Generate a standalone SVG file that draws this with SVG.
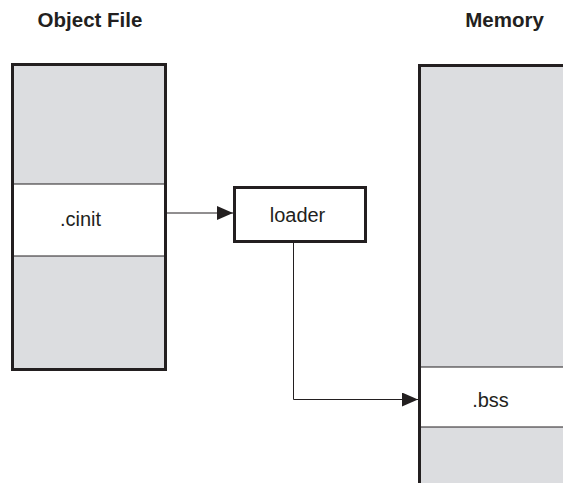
<svg xmlns="http://www.w3.org/2000/svg" width="563" height="483" viewBox="0 0 563 483">
<style>
.title{font-family:"Liberation Sans",Arial,sans-serif;font-weight:bold;font-size:20.5px;fill:#231f20}
.lbl{font-family:"Liberation Sans",Arial,sans-serif;font-size:20px;fill:#231f20}
.gray{fill:#dcdde0}
.div{stroke:#231f20;stroke-width:1;fill:none}
.thick{stroke:#231f20;stroke-width:3;fill:none}
.conn{stroke:#231f20;stroke-width:1;fill:none}
</style>
<defs>
<marker id="arr" markerWidth="16" markerHeight="14" refX="16" refY="7" orient="auto" markerUnits="userSpaceOnUse">
<path d="M0,0 L16,7 L0,14 Z" fill="#231f20"/>
</marker>
</defs>
<rect width="563" height="483" fill="#fff"/>
<text class="title" x="90" y="27" text-anchor="middle">Object File</text>
<text class="title" x="504.5" y="27" text-anchor="middle">Memory</text>
<g id="objectfile">
<rect class="gray" x="13" y="65" width="152" height="119"/>
<rect x="13" y="184" width="152" height="72" fill="#fff"/>
<rect class="gray" x="13" y="256" width="152" height="113"/>
<line class="div" x1="13" y1="184" x2="165" y2="184"/>
<line class="div" x1="13" y1="256" x2="165" y2="256"/>
<rect class="thick" x="12.5" y="64.5" width="153" height="305"/>
<text class="lbl" x="80.5" y="226" text-anchor="middle">.cinit</text>
</g>
<g id="loader">
<rect x="234.5" y="187.5" width="131" height="54" fill="#fff" stroke="#231f20" stroke-width="3"/>
<text class="lbl" x="297.5" y="222" text-anchor="middle">loader</text>
</g>
<g id="memory">
<rect class="gray" x="419" y="65" width="144" height="302"/>
<rect x="419" y="367" width="144" height="60" fill="#fff"/>
<rect class="gray" x="419" y="427" width="144" height="56"/>
<line class="div" x1="419" y1="367" x2="563" y2="367"/>
<line class="div" x1="419" y1="427" x2="563" y2="427"/>
<path class="thick" d="M419.5,483 L419.5,65.5 L563,65.5"/>
<text class="lbl" x="490.5" y="407" text-anchor="middle">.bss</text>
</g>
<g id="connectors">
<line class="conn" x1="166" y1="213" x2="233" y2="213" marker-end="url(#arr)"/>
<path class="conn" d="M293.5,243 L293.5,399.5 L418,399.5" marker-end="url(#arr)"/>
</g>
</svg>
